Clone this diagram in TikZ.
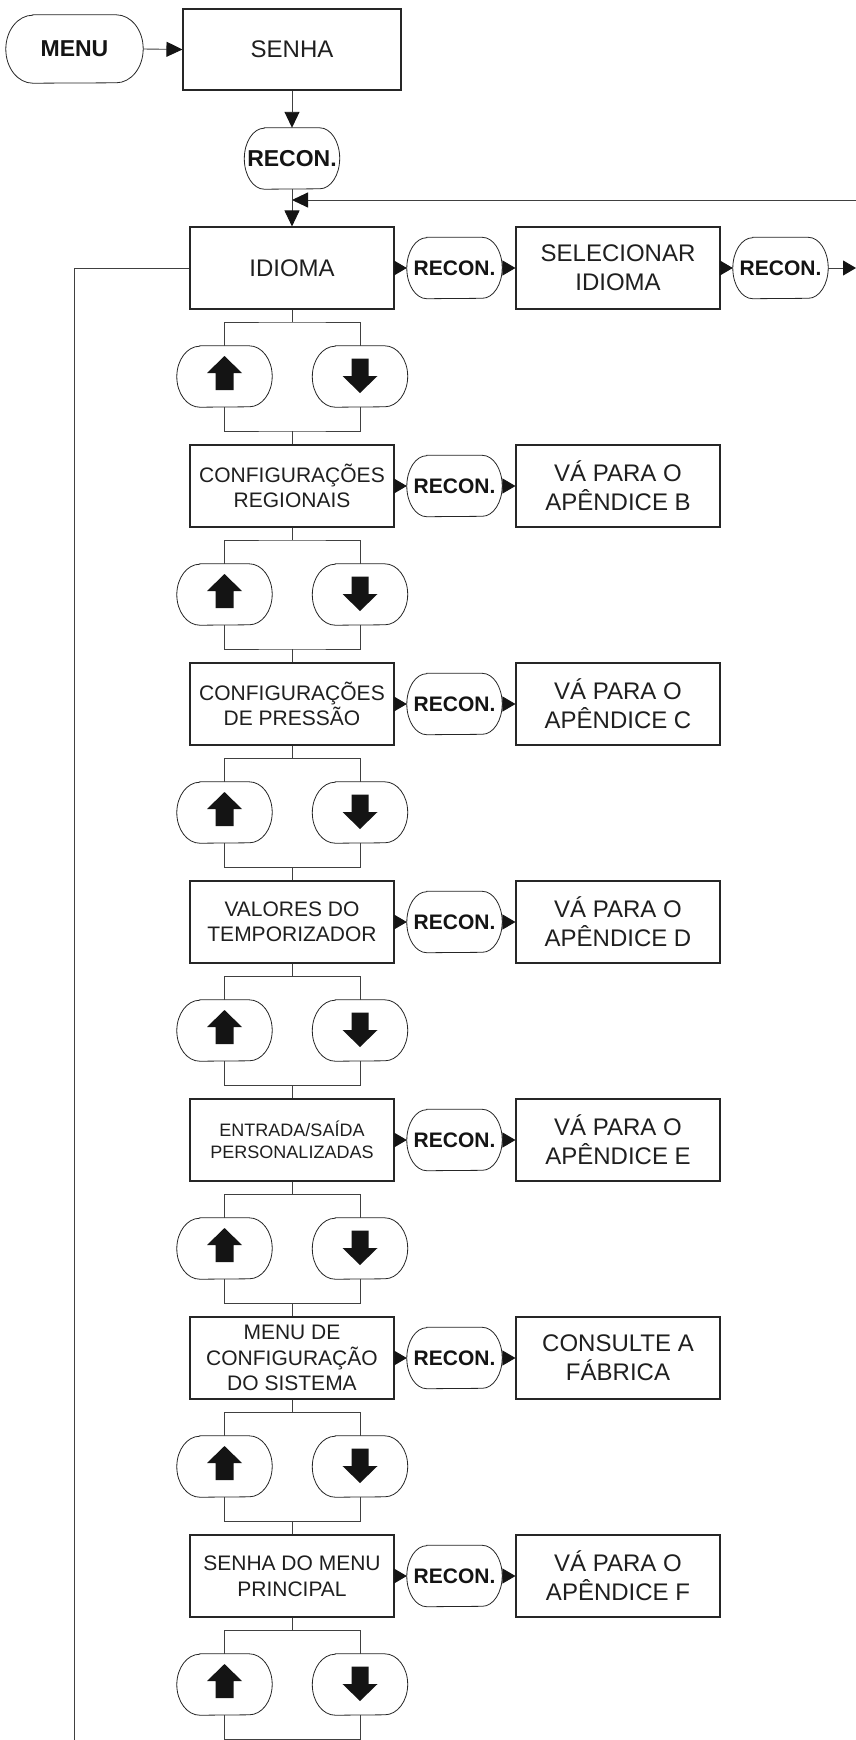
\documentclass[tikz,border=0pt]{standalone}
\usepackage{fontspec}
\setmainfont{Liberation Sans}
\usetikzlibrary{arrows.meta}
\newcommand\fbig{\fontsize{24}{29}\selectfont}
\newcommand\fmid{\fontsize{21}{25.5}\selectfont}
\newcommand\fsml{\fontsize{18}{22}\selectfont}
\newcommand\frec{\fontsize{21}{25}\selectfont\bfseries}
\newcommand\frecbig{\fontsize{23}{27}\selectfont\bfseries}
\tikzset{
 box/.style={draw=black!85, line width=1.1pt, minimum width=204pt, minimum height=82pt, inner sep=0pt, align=center, text=black!88},
 ovalnode/.style={minimum width=95pt, minimum height=61pt, inner sep=0pt, align=center, text=black!92},
 ovalline/.style={draw=black!85, line width=0.8pt},
 conn/.style={draw=black!75, line width=0.9pt},
 arr/.style={conn, -{Triangle[length=16pt,width=15pt,color=black!92,fill=black!92]}},
 arrs/.style={conn, -{Triangle[length=13pt,width=15pt,color=black!92,fill=black!92]}},
 keyfill/.style={fill=black!92}
}
\newcommand\ovaloutline[3]{%
 \draw[ovalline] ([xshift=#2]#1.north west) -- ([xshift=-#2]#1.north east)
   arc[start angle=90,end angle=-90,x radius=#2,y radius=#3]
   -- ([xshift=#2]#1.south west)
   arc[start angle=270,end angle=90,x radius=#2,y radius=#3] -- cycle;}
\newcommand\upglyph[1]{%
 \fill[keyfill] ([shift={(0,-20.5)}]#1.center) -- ([shift={(17.5,-3.5)}]#1.center)
   -- ([shift={(9,-3.5)}]#1.center) -- ([shift={(9,13.5)}]#1.center)
   -- ([shift={(-9,13.5)}]#1.center) -- ([shift={(-9,-3.5)}]#1.center)
   -- ([shift={(-17.5,-3.5)}]#1.center) -- cycle;}
\newcommand\downglyph[1]{%
 \fill[keyfill] ([shift={(0,16.5)}]#1.center) -- ([shift={(17.5,-0.5)}]#1.center)
   -- ([shift={(8.5,-0.5)}]#1.center) -- ([shift={(8.5,-18)}]#1.center)
   -- ([shift={(-8.5,-18)}]#1.center) -- ([shift={(-8.5,-0.5)}]#1.center)
   -- ([shift={(-17.5,-0.5)}]#1.center) -- cycle;}
\newcommand\keypair[2]{%
 \node[ovalnode] (u#1) at (224.5,#2+108.5) {};
 \node[ovalnode] (w#1) at (360,#2+108.5) {};
 \ovaloutline{u#1}{23pt}{30.5pt}
 \ovaloutline{w#1}{23pt}{30.5pt}
 \upglyph{u#1}
 \downglyph{w#1}
 \coordinate (t#1) at (292,#2+54);
 \coordinate (m#1) at (292,#2+163);
 \draw[conn] (b#1.south) -- (t#1);
 \draw[conn] (u#1.north) |- (t#1) -| (w#1.north);
 \draw[conn] (u#1.south) |- (m#1) -| (w#1.south);
}
\newcommand\menurow[5]{%
 \node[box,font=#3] (b#1) at (292,#2) {#4};
 \node[ovalnode,font=\frec] (r#1) at (454.5,#2) {RECON.};
 \ovaloutline{r#1}{20pt}{30.5pt}
 \node[box,font=\fbig] (d#1) at (618,#2) {#5};
 \draw[arrs] (b#1.east) -- (r#1.west);
 \draw[arrs] (r#1.east) -- (d#1.west);
 \keypair{#1}{#2}
}
\begin{document}
\begin{tikzpicture}[x=1pt,y=-1pt]
\useasboundingbox (0,0) rectangle (856,1740);
\fill[white] (0,0) rectangle (856,1740);
% top part
\node[ovalnode,minimum width=137pt,minimum height=68pt,font=\frecbig] (menu) at (74.5,49) {MENU};
\ovaloutline{menu}{27pt}{34pt}
\node[box,minimum width=218pt,minimum height=81pt,font=\fbig] (senha) at (292,49.5) {SENHA};
\node[ovalnode,font=\frecbig] (rt) at (292,158.5) {RECON.};
\ovaloutline{rt}{20pt}{30.5pt}
\draw[arr] (menu.east) -- (senha.west);
\draw[arr] (senha.south) -- (rt.north);
% rows
\menurow{0}{268}{\fbig}{IDIOMA}{SELECIONAR\\IDIOMA}
\menurow{1}{486}{\fmid}{CONFIGURAÇÕES\\REGIONAIS}{VÁ PARA O\\APÊNDICE B}
\menurow{2}{704}{\fmid}{CONFIGURAÇÕES\\DE PRESSÃO}{VÁ PARA O\\APÊNDICE C}
\menurow{3}{922}{\fmid}{VALORES DO\\TEMPORIZADOR}{VÁ PARA O\\APÊNDICE D}
\menurow{4}{1140}{\fsml}{ENTRADA/SAÍDA\\PERSONALIZADAS}{VÁ PARA O\\APÊNDICE E}
\menurow{5}{1358}{\fmid}{MENU DE\\CONFIGURAÇÃO\\DO SISTEMA}{CONSULTE A\\FÁBRICA}
\menurow{6}{1576}{\fmid}{SENHA DO MENU\\PRINCIPAL}{VÁ PARA O\\APÊNDICE F}
% links between rows
\draw[conn] (m0) -- (b1.north);
\draw[conn] (m1) -- (b2.north);
\draw[conn] (m2) -- (b3.north);
\draw[conn] (m3) -- (b4.north);
\draw[conn] (m4) -- (b5.north);
\draw[conn] (m5) -- (b6.north);
\coordinate (endc) at (292,1741);
\draw[conn] (m6) -- (endc);
% second RECON on first row and loops
\node[ovalnode,font=\frec] (rr) at (780.5,268) {RECON.};
\ovaloutline{rr}{20pt}{30.5pt}
\draw[arrs] (d0.east) -- (rr.west);
\coordinate (outr) at (856,268);
\draw[arrs] (rr.east) -- (outr);
\coordinate (backin) at (857,200);
\coordinate (join) at (292,200);
\draw[arr] (backin) -- (join);
\draw[arr] (rt.south) -- (b0.north);
\coordinate (loopend) at (74,1741);
\draw[conn] (b0.west) -| (loopend);
\end{tikzpicture}
\end{document}
